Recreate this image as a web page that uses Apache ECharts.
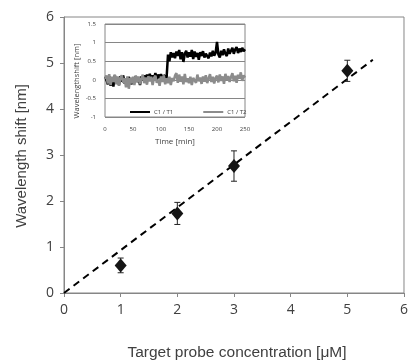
<!DOCTYPE html>
<html><head><meta charset="utf-8">
<script src="https://cdn.jsdelivr.net/npm/echarts@6/dist/echarts.min.js"></script>
<style>html,body{margin:0;padding:0;background:#fff}#c{width:411px;height:362px}</style>
</head><body><div id="c"></div>
<script>
// Main chart data
const conc = [1, 2, 3, 5];
const shift = [0.6, 1.73, 2.76, 4.83];
const shiftErr = [0.16, 0.24, 0.33, 0.23];
const fitX = [0, 5.45];
const fitY = [0, 5.07];
const mainTicks = [0, 1, 2, 3, 4, 5, 6];

// Inset data (time in min, shift in nm)
const insetTime = Array.from({length: 101}, (_, i) => i * 2.5);
const c1t1 = [
 0.08, 0.0, -0.12, 0.1, -0.16, 0.06, -0.18, 0.12, -0.08, 0.05,
 -0.14, 0.1, -0.05, 0.12, -0.1, 0.04, -0.16, 0.08, -0.02, -0.12,
 0.06, -0.08, 0.1, -0.06, 0.04, -0.14, 0.09, -0.02, 0.12, -0.06,
 0.14, 0.02, 0.16, -0.02, 0.12, 0.04, 0.18, 0.0, 0.14, 0.05,
 0.15, 0.02, 0.12, 0.14, 0.06, 0.68, 0.5, 0.74, 0.6, 0.72,
 0.58, 0.76, 0.64, 0.8, 0.55, 0.74, 0.48, 0.7, 0.78, 0.6,
 0.74, 0.62, 0.8, 0.56, 0.76, 0.62, 0.72, 0.54, 0.74, 0.64,
 0.77, 0.6, 0.7, 0.75, 0.58, 0.73, 0.63, 0.78, 0.65, 0.72,
 1.02, 0.68, 0.6, 0.78, 0.66, 0.82, 0.7, 0.64, 0.84, 0.7,
 0.78, 0.86, 0.7, 0.82, 0.88, 0.72, 0.84, 0.75, 0.86, 0.77, 0.82
];
const c1t2 = [
 0.02, 0.12, -0.1, 0.15, -0.14, 0.08, -0.06, 0.14, -0.12, 0.09,
 -0.16, 0.06, 0.12, -0.08, 0.04, -0.2, 0.09, -0.24, 0.05, -0.1,
 0.08, -0.14, 0.11, -0.05, 0.09, -0.12, 0.03, 0.14, -0.09, 0.06,
 -0.13, 0.1, -0.04, 0.08, -0.14, 0.05, 0.11, -0.08, 0.01, -0.16,
 0.09, -0.06, 0.12, -0.12, 0.04, -0.09, 0.08, -0.14, 0.05, -0.04,
 0.11, 0.18, -0.08, 0.14, -0.05, 0.09, -0.12, 0.16, -0.06, 0.04,
 -0.09, 0.08, -0.14, 0.05, 0.1, -0.08, 0.14, -0.04, 0.06, -0.11,
 0.09, -0.05, 0.12, -0.09, 0.04, 0.15, -0.06, 0.08, -0.1, 0.05,
 0.11, -0.07, 0.14, -0.03, 0.09, -0.11, 0.16, 0.0, 0.1, -0.06,
 0.08, 0.18, -0.04, 0.11, -0.08, 0.14, 0.03, 0.2, -0.03, 0.12, 0.06
];

const FONT = 'Open Sans';
const TFONT = 'Liberation Sans';
const TXT = '#404040';
const AX = '#868686';

const chart = echarts.init(document.getElementById('c'), null, {renderer: 'canvas'});
chart.setOption({
  animation: false,
  backgroundColor: '#fff',
  textStyle: {fontFamily: FONT},
  grid: [
    {left: 64, top: 17, right: 5, bottom: 69, show: true, borderColor: AX, borderWidth: 1, backgroundColor: 'transparent'},
    {left: 105, top: 24, width: 140, height: 93, show: true, borderColor: AX, borderWidth: 1, backgroundColor: '#fff'}
  ],
  xAxis: [
    {gridIndex: 0, type: 'value', min: 0, max: 6, interval: 1,
     axisLine: {show: true, onZero: false, lineStyle: {color: AX}},
     axisTick: {show: true, inside: false, length: 4, lineStyle: {color: AX}},
     axisLabel: {color: TXT, fontSize: 14, margin: 10, fontFamily: FONT},
     splitLine: {show: false}},
    {gridIndex: 1, type: 'value', min: 0, max: 250, interval: 50,
     axisLine: {show: false}, axisTick: {show: false},
     axisLabel: {color: TXT, fontSize: 6, margin: 9, fontFamily: FONT},
     splitLine: {show: false}}
  ],
  yAxis: [
    {gridIndex: 0, type: 'value', min: 0, max: 6, interval: 1,
     axisLine: {show: true, lineStyle: {color: AX}},
     axisTick: {show: true, inside: false, length: 4, lineStyle: {color: AX}},
     axisLabel: {color: TXT, fontSize: 14, margin: 10, fontFamily: FONT},
     splitLine: {show: false}},
    {gridIndex: 1, type: 'value', min: -1, max: 1.5, interval: 0.5,
     axisLine: {show: false}, axisTick: {show: false},
     axisLabel: {color: TXT, fontSize: 6, margin: 9, fontFamily: FONT},
     splitLine: {show: true, lineStyle: {color: AX, width: 1}}}
  ],
  legend: {
    show: true, left: 125, top: 104, itemWidth: 20, itemHeight: 2, itemGap: 30,
    icon: 'rect',
    data: ['C1 / T1', 'C1 / T2'],
    textStyle: {fontSize: 6, color: TXT, fontFamily: FONT, padding: [0, 0, 0, -1]}
  },
  series: [
    {type: 'line', name: 'fit', xAxisIndex: 0, yAxisIndex: 0,
     data: fitX.map((x, i) => [x, fitY[i]]), symbol: 'none',
     lineStyle: {color: '#000', width: 2, type: [7, 5]}, z: 2},
    {type: 'custom', name: 'err', xAxisIndex: 0, yAxisIndex: 0,
     data: conc.map((x, i) => [x, shift[i] - shiftErr[i], shift[i] + shiftErr[i]]),
     renderItem: function (params, api) {
       const lo = api.coord([api.value(0), api.value(1)]);
       const hi = api.coord([api.value(0), api.value(2)]);
       const w = 3;
       const st = {stroke: '#222', lineWidth: 1};
       return {type: 'group', children: [
         {type: 'line', shape: {x1: lo[0], y1: lo[1], x2: hi[0], y2: hi[1]}, style: st},
         {type: 'line', shape: {x1: lo[0] - w, y1: lo[1], x2: lo[0] + w, y2: lo[1]}, style: st},
         {type: 'line', shape: {x1: hi[0] - w, y1: hi[1], x2: hi[0] + w, y2: hi[1]}, style: st}
       ]};
     }, z: 3},
    {type: 'scatter', name: 'pts', xAxisIndex: 0, yAxisIndex: 0,
     data: conc.map((x, i) => [x, shift[i]]), symbol: 'diamond', symbolSize: [12, 14],
     itemStyle: {color: '#151515', opacity: 1}, z: 4},
    {type: 'line', name: 'C1 / T1', xAxisIndex: 1, yAxisIndex: 1,
     data: insetTime.map((t, i) => [t, c1t1[i]]), symbol: 'none', showSymbol: false,
     lineStyle: {color: '#000', width: 2.5}, itemStyle: {color: '#000'}, z: 5},
    {type: 'line', name: 'C1 / T2', xAxisIndex: 1, yAxisIndex: 1,
     data: insetTime.map((t, i) => [t, c1t2[i]]), symbol: 'none', showSymbol: false,
     lineStyle: {color: '#8c8c8c', width: 2.5}, itemStyle: {color: '#8c8c8c'}, z: 6}
  ],
  graphic: [
    {type: 'text', x: 237, y: 353, style: {text: 'Target probe concentration [μM]', fill: TXT, font: '15.5px "' + TFONT + '"', textAlign: 'center', textVerticalAlign: 'middle'}},
    {type: 'text', x: 22, y: 156, rotation: Math.PI / 2, style: {text: 'Wavelength shift [nm]', fill: TXT, font: '15px "' + TFONT + '"', textAlign: 'center', textVerticalAlign: 'middle'}},
    {type: 'text', x: 175, y: 142, style: {text: 'Time [min]', fill: TXT, font: '8px "' + FONT + '"', textAlign: 'center', textVerticalAlign: 'middle'}, z: 10},
    {type: 'text', x: 77, y: 81, rotation: Math.PI / 2, style: {text: 'Wavelengthshift [nm]', fill: TXT, font: '7.5px "' + FONT + '"', textAlign: 'center', textVerticalAlign: 'middle'}, z: 10}
  ]
});
</script></body></html>
